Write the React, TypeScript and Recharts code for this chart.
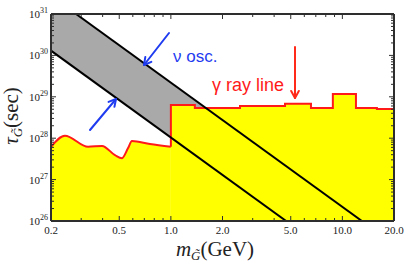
import { ComposedChart, Area, Line, XAxis, YAxis } from 'recharts';

// readings from the plot (mass in GeV, lifetime in sec)
const X_TICKS = [0.2, 0.3, 0.4, 0.5, 0.6, 0.7, 0.8, 0.9, 1, 2, 3, 4, 5, 6, 7, 8, 9, 10, 20];
const X_MAJOR = [0.2, 0.5, 1, 2, 5, 10, 20];
const Y_EXP = [26, 27, 28, 29, 30, 31];
const Y_TICKS = [
  1e26, 2e26, 3e26, 4e26, 5e26, 6e26, 7e26, 8e26, 9e26,
  1e27, 2e27, 3e27, 4e27, 5e27, 6e27, 7e27, 8e27, 9e27,
  1e28, 2e28, 3e28, 4e28, 5e28, 6e28, 7e28, 8e28, 9e28,
  1e29, 2e29, 3e29, 4e29, 5e29, 6e29, 7e29, 8e29, 9e29,
  1e30, 2e30, 3e30, 4e30, 5e30, 6e30, 7e30, 8e30, 9e30,
  1e31,
];

// gamma-ray line limit, smooth part below 1 GeV
const gammaSmooth = [
  { m: 0.2, t: 6.2e27 },
  { m: 0.241, t: 1.15e28 },
  { m: 0.329, t: 6.2e27 },
  { m: 0.397, t: 6.5e27 },
  { m: 0.472, t: 3.9e27 },
  { m: 0.519, t: 3.3e27 },
  { m: 0.562, t: 5.7e27 },
  { m: 0.593, t: 8.5e27 },
  { m: 0.755, t: 7.2e27 },
  { m: 1.0, t: 6.2e27 },
];

// binned part above 1 GeV
const gammaSteps = [
  { m: 1.0, t: 6.2e27 },
  { m: 1.0, t: 6.3e28 },
  { m: 1.38, t: 6.3e28 },
  { m: 1.38, t: 5.4e28 },
  { m: 2.53, t: 5.4e28 },
  { m: 2.53, t: 6.0e28 },
  { m: 4.63, t: 6.0e28 },
  { m: 4.63, t: 6.8e28 },
  { m: 6.56, t: 6.8e28 },
  { m: 6.56, t: 5.4e28 },
  { m: 8.8, t: 5.4e28 },
  { m: 8.8, t: 1.17e29 },
  { m: 12.0, t: 1.17e29 },
  { m: 12.0, t: 5.4e28 },
  { m: 15.9, t: 5.4e28 },
  { m: 15.9, t: 5.1e28 },
  { m: 20, t: 5.1e28 },
];

// neutrino oscillation band edges
const lowerEdge = [
  { m: 0.2, t: 1.3e30 },
  { m: 4.7, t: 1e26 },
];
const upperEdge = [
  { m: 0.28, t: 1e31 },
  { m: 13, t: 1e26 },
];
const oscBand = [
  { m: 0.2, band: [1.3e30, 2.74e31] },
  { m: 4.7, band: [1e26, 2.1e27] },
];

const FRAME = '#2e2e2e';
const SERIF = '"Liberation Serif", "DejaVu Serif", serif';
const SANS = '"Liberation Sans", Arial, sans-serif';

function XTick(props: any) {
  const { x, y, payload, side } = props;
  const v = payload.value;
  const major = X_MAJOR.includes(v);
  const len = major ? 5 : 3;
  const dir = side === 'bottom' ? -1 : 1;
  return (
    <g>
      <line x1={x} x2={x} y1={y} y2={y + dir * len} stroke={FRAME} strokeWidth={1} />
      {side === 'bottom' && major && (
        <text x={x} y={y + 13} textAnchor="middle" fontSize={11} fontFamily={SERIF} fill="#222">
          {v.toFixed(1)}
        </text>
      )}
    </g>
  );
}

function YTick(props: any) {
  const { x, y, payload, side } = props;
  const v = payload.value;
  const e = Math.round(Math.log10(v));
  const major = Y_EXP.includes(e) && Math.abs(v / Math.pow(10, e) - 1) < 1e-6;
  const len = major ? 5 : 3;
  const dir = side === 'left' ? 1 : -1;
  return (
    <g>
      <line x1={x} x2={x + dir * len} y1={y} y2={y} stroke={FRAME} strokeWidth={1} />
      {side === 'left' && major && (
        <text x={x - 3} y={y + 4} textAnchor="end" fontSize={11} fontFamily={SERIF} fill="#222">
          10<tspan dy={-5} fontSize={8}>{e}</tspan>
        </text>
      )}
    </g>
  );
}

function Arrow({ x1, y1, x2, y2, color }: any) {
  const a = Math.atan2(y2 - y1, x2 - x1);
  const h = 8;
  const s = 0.5;
  const p1 = [x2 - h * Math.cos(a - s), y2 - h * Math.sin(a - s)];
  const p2 = [x2 - h * Math.cos(a + s), y2 - h * Math.sin(a + s)];
  return (
    <g stroke={color} strokeWidth={2} fill="none" strokeLinecap="round" strokeLinejoin="round">
      <line x1={x1} y1={y1} x2={x2} y2={y2} />
      <polyline points={`${p1[0]},${p1[1]} ${x2},${y2} ${p2[0]},${p2[1]}`} />
    </g>
  );
}

const axisStyle = { stroke: FRAME, strokeWidth: 2 };

export default function App() {
  return (
    <div style={{ position: 'fixed', left: 0, top: 0, width: 407, height: 266, background: '#fff' }}>
      <ComposedChart width={407} height={266} margin={{ top: 13, right: 12, bottom: 44, left: 50 }}>
        <XAxis
          xAxisId="b"
          dataKey="m"
          type="number"
          scale="log"
          domain={[0.2, 20]}
          allowDataOverflow
          ticks={X_TICKS}
          interval={0}
          height={1}
          tickSize={0}
          tickMargin={0}
          tickLine={false}
          axisLine={axisStyle}
          tick={(p: any) => <XTick {...p} side="bottom" />}
        />
        <XAxis
          xAxisId="t"
          orientation="top"
          dataKey="m"
          type="number"
          scale="log"
          domain={[0.2, 20]}
          allowDataOverflow
          ticks={X_TICKS}
          interval={0}
          height={1}
          tickSize={0}
          tickMargin={0}
          tickLine={false}
          axisLine={axisStyle}
          tick={(p: any) => <XTick {...p} side="top" />}
        />
        <YAxis
          yAxisId="l"
          type="number"
          scale="log"
          domain={[1e26, 1e31]}
          allowDataOverflow
          ticks={Y_TICKS}
          interval={0}
          width={1}
          tickSize={0}
          tickMargin={0}
          tickLine={false}
          axisLine={axisStyle}
          tick={(p: any) => <YTick {...p} side="left" />}
        />
        <YAxis
          yAxisId="r"
          orientation="right"
          type="number"
          scale="log"
          domain={[1e26, 1e31]}
          allowDataOverflow
          ticks={Y_TICKS}
          interval={0}
          width={1}
          tickSize={0}
          tickMargin={0}
          tickLine={false}
          axisLine={axisStyle}
          tick={(p: any) => <YTick {...p} side="right" />}
        />
        <Area
          xAxisId="b"
          yAxisId="l"
          data={oscBand}
          dataKey="band"
          type="linear"
          fill="#a9a9a9"
          fillOpacity={1}
          stroke="none"
          isAnimationActive={false}
        />
        <Area
          xAxisId="b"
          yAxisId="l"
          data={gammaSmooth}
          dataKey="t"
          type="monotone"
          baseValue={1e26}
          fill="#ffff00"
          fillOpacity={1}
          stroke="#ff1a1a"
          strokeWidth={2}
          isAnimationActive={false}
        />
        <Area
          xAxisId="b"
          yAxisId="l"
          data={gammaSteps}
          dataKey="t"
          type="linear"
          baseValue={1e26}
          fill="#ffff00"
          fillOpacity={1}
          stroke="#ff1a1a"
          strokeWidth={2}
          isAnimationActive={false}
        />
        <Line
          xAxisId="b"
          yAxisId="l"
          data={lowerEdge}
          dataKey="t"
          type="linear"
          stroke="#000"
          strokeWidth={2}
          dot={false}
          isAnimationActive={false}
        />
        <Line
          xAxisId="b"
          yAxisId="l"
          data={upperEdge}
          dataKey="t"
          type="linear"
          stroke="#000"
          strokeWidth={2}
          dot={false}
          isAnimationActive={false}
        />
      </ComposedChart>
      <svg width={407} height={266} style={{ position: 'absolute', left: 0, top: 0, pointerEvents: 'none' }}>
        <Arrow x1={90} y1={130} x2={116} y2={99} color="#1f3cf0" />
        <Arrow x1={169} y1={33} x2={144} y2={65} color="#1f3cf0" />
        <Arrow x1={295} y1={47} x2={295} y2={98} color="#ff2a1a" />
        <text x={173} y={62} fontSize={17} fontFamily={SANS} fill="#1f3cf0">ν osc.</text>
        <text x={212} y={91} fontSize={18} fontFamily={SANS} fill="#ff1a1a">γ ray line</text>
        <text x={215} y={256} textAnchor="middle" fontFamily={SERIF} fill="#222">
          <tspan fontSize={21} fontStyle="italic">m</tspan>
          <tspan fontSize={13} fontStyle="italic" dy={4}>G̃</tspan>
          <tspan fontSize={21} dy={-4}>(GeV)</tspan>
        </text>
        <text
          transform="translate(18,116) rotate(-90)"
          textAnchor="middle"
          fontFamily={SERIF}
          fill="#222"
        >
          <tspan fontSize={21} fontStyle="italic">τ</tspan>
          <tspan fontSize={13} fontStyle="italic" dy={4}>G̃</tspan>
          <tspan fontSize={21} dy={-4}>(sec)</tspan>
        </text>
      </svg>
    </div>
  );
}
